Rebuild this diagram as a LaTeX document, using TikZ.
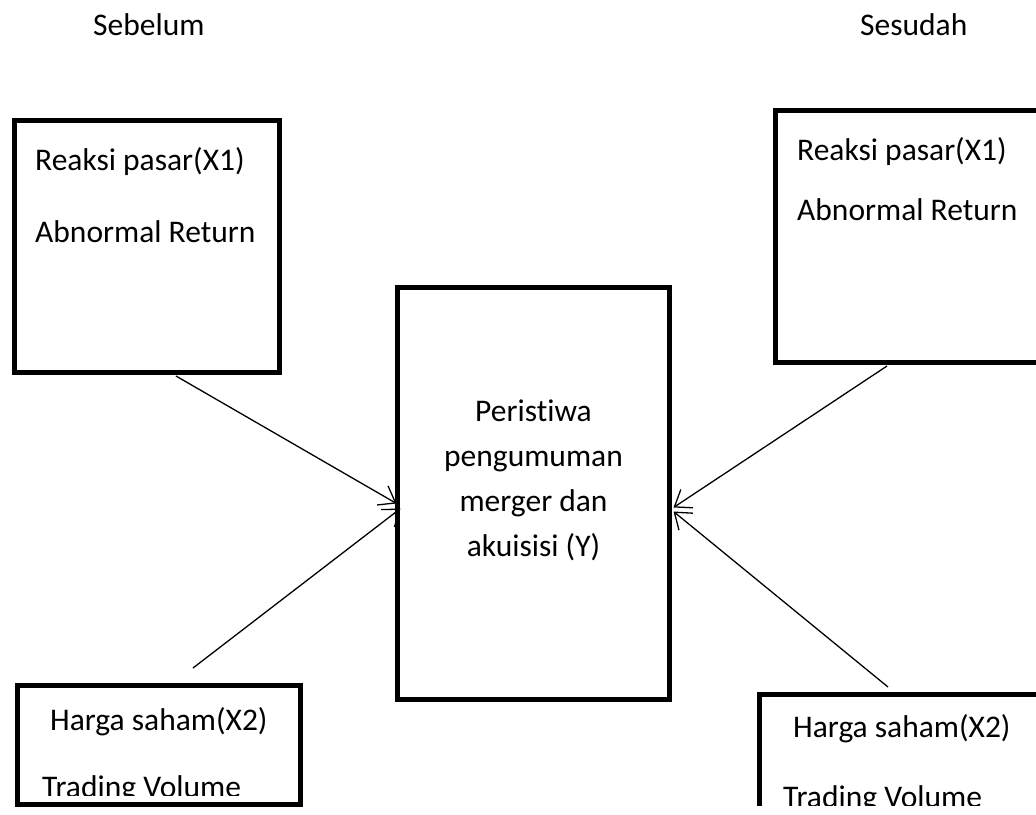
\documentclass[tikz,border=0pt]{standalone}
\usepackage{fontspec}
\setmainfont{Carlito}[Ligatures=NoCommon]
\usetikzlibrary{arrows.meta}
\begin{document}
\begin{tikzpicture}[x=1pt,y=-1pt,
  box/.style={draw,line width=5pt,rectangle,inner sep=0pt,outer sep=0pt},
  lbl/.style={font=\fontsize{31.5}{38}\selectfont,inner sep=0pt,anchor=base west},
  conn/.style={line width=1.3pt,-{Straight Barb[length=15pt,width=22pt,line width=1.3pt]}}
]
\useasboundingbox (0,0) rectangle (1036,814);
\clip (0,0) rectangle (1036,814);
\fill[white] (0,0) rectangle (1036,814);

% headings
\node[lbl] (hsb) at (93,35) {Sebelum};
\node[lbl] (hsd) at (860,35) {Sesudah};

% boxes
\node[box,minimum width=265pt,minimum height=252pt] (lt) at (147,246.5) {};
\node[box,minimum width=272pt,minimum height=412pt] (cb) at (533.5,493.5) {};
\node[box,minimum width=280pt,minimum height=252pt] (rt) at (915.5,236.5) {};
\node[box,minimum width=283pt,minimum height=119pt] (lb) at (159,745) {};
\begin{scope}
\clip (700,600) rectangle (1036,805);
\node[box,minimum width=300pt,minimum height=140pt] (rb) at (909.5,764.5) {};
\end{scope}

% texts
\node[lbl] (lt1) at (35,170) {Reaksi pasar(X1)};
\node[lbl] (lt2) at (35,242) {Abnormal Return};
\node[lbl] (rt1) at (797,160) {Reaksi pasar(X1)};
\node[lbl] (rt2) at (797,220) {Abnormal Return};
\node[lbl,align=center,anchor=center,font=\fontsize{31.5}{45}\selectfont] (ct) at (533.5,480)
  {Peristiwa\\pengumuman\\merger dan\\akuisisi (Y)};
\node[lbl] (lb1) at (50,730) {Harga saham(X2)};
\begin{scope}
\clip (17,690) rectangle (300,795);
\node[lbl] (lb2) at (42,797) {Trading Volume};
\end{scope}
\node[lbl] (rb1) at (793,737) {Harga saham(X2)};
\begin{scope}
\clip (762,700) rectangle (1036,805);
\node[lbl] (rb2) at (783,807) {Trading Volume};
\end{scope}

% connectors
\coordinate (s1) at (176,376);
\coordinate (s2) at (193,668);
\coordinate (s3) at (887,366);
\coordinate (s4) at (888,687);
\draw[conn] (s1) -- ([xshift=-1pt,yshift=-10pt]cb.west);
\draw[conn] (s2) -- ([xshift=3pt,yshift=-15pt]cb.west);
\draw[conn] (s3) -- ([xshift=4pt,yshift=-14pt]cb.east);
\draw[conn] (s4) -- ([xshift=4pt,yshift=-18pt]cb.east);
\end{tikzpicture}
\end{document}
